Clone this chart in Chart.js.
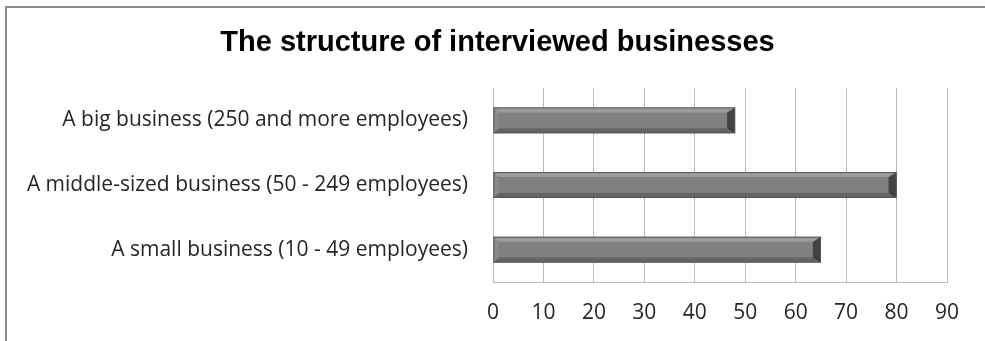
<!DOCTYPE html>
<html>
<head>
<meta charset="utf-8">
<script src="https://cdn.jsdelivr.net/npm/chart.js@4/dist/chart.umd.min.js"></script>
<style>
  html, body { margin: 0; padding: 0; background: #ffffff; }
  #wrap { position: relative; width: 985px; height: 341px; }
</style>
</head>
<body>
<div id="wrap"><canvas id="c" width="985" height="341"></canvas></div>
<script>
const chartTitle = 'The structure of interviewed businesses';
const categories = [
  'A big business (250 and more employees)',
  'A middle-sized business (50 - 249 employees)',
  'A small business (10 - 49 employees)'
];
const counts = [48, 80, 65];
const axisMax = 90;
const axisStep = 10;

const LABEL_FONT = '"Open Sans", sans-serif';
const TITLE_FONT = '"Liberation Sans", Arial, sans-serif';

// Outer frame of the chart and the heading, centred on the framed box
const framePlugin = {
  id: 'frame',
  beforeDraw(chart) {
    const ctx = chart.ctx;
    ctx.save();
    ctx.fillStyle = '#ffffff';
    ctx.fillRect(0, 0, chart.width, chart.height);
    ctx.strokeStyle = '#8c8c8c';
    ctx.lineWidth = 2;
    ctx.beginPath();
    ctx.moveTo(6, chart.height + 5);
    ctx.lineTo(6, 7);
    ctx.lineTo(chart.width + 5, 7);
    ctx.stroke();
    ctx.restore();
  },
  afterDraw(chart) {
    const ctx = chart.ctx;
    ctx.save();
    ctx.fillStyle = '#000000';
    ctx.font = 'bold 29px ' + TITLE_FONT;
    ctx.textAlign = 'center';
    ctx.textBaseline = 'middle';
    ctx.fillText(chartTitle, chart.width / 2 + 5, 43);
    ctx.restore();
  }
};

// Bevelled look for each bar, drawn over the bar the library places
const bevelPlugin = {
  id: 'bevel',
  afterDatasetsDraw(chart) {
    const ctx = chart.ctx;
    const meta = chart.getDatasetMeta(0);
    ctx.save();
    meta.data.forEach(bar => {
      const x0 = Math.min(bar.base, bar.x);
      const x1 = Math.max(bar.base, bar.x);
      const y0 = bar.y - bar.height / 2;
      const y1 = bar.y + bar.height / 2;
      const b = 5;
      // top bevel
      ctx.fillStyle = 'rgba(190,190,190,0.45)';
      ctx.beginPath();
      ctx.moveTo(x0, y0); ctx.lineTo(x1, y0); ctx.lineTo(x1 - b, y0 + b); ctx.lineTo(x0 + b, y0 + b);
      ctx.closePath(); ctx.fill();
      // bottom bevel
      ctx.fillStyle = 'rgba(60,60,60,0.4)';
      ctx.beginPath();
      ctx.moveTo(x0, y1); ctx.lineTo(x1, y1); ctx.lineTo(x1 - b, y1 - b); ctx.lineTo(x0 + b, y1 - b);
      ctx.closePath(); ctx.fill();
      // left bevel
      ctx.fillStyle = 'rgba(150,150,150,0.45)';
      ctx.beginPath();
      ctx.moveTo(x0, y0); ctx.lineTo(x0 + b, y0 + b); ctx.lineTo(x0 + b, y1 - b); ctx.lineTo(x0, y1);
      ctx.closePath(); ctx.fill();
      // right bevel (dark chamfer)
      ctx.fillStyle = 'rgba(40,40,40,0.7)';
      ctx.beginPath();
      ctx.moveTo(x1, y0); ctx.lineTo(x1 - b - 3, y0 + b); ctx.lineTo(x1 - b - 3, y1 - b); ctx.lineTo(x1, y1);
      ctx.closePath(); ctx.fill();
      // outline
      ctx.strokeStyle = '#555555';
      ctx.lineWidth = 1;
      ctx.strokeRect(x0 + 0.5, y0 + 0.5, x1 - x0 - 1, y1 - y0 - 1);
    });
    ctx.restore();
  }
};

function barGradient(context) {
  const chart = context.chart;
  const el = context.element;
  if (!el || !chart.chartArea) return '#808080';
  const y0 = el.y - el.height / 2;
  const y1 = el.y + el.height / 2;
  if (!isFinite(y0) || !isFinite(y1) || y0 === y1) return '#808080';
  const g = chart.ctx.createLinearGradient(0, y0, 0, y1);
  g.addColorStop(0, '#8a8a8a');
  g.addColorStop(0.3, '#a2a2a2');
  g.addColorStop(0.45, '#8e8e8e');
  g.addColorStop(0.7, '#777777');
  g.addColorStop(1, '#5e5e5e');
  return g;
}

const PAD_LEFT = 10;
const PAD_RIGHT = 38;
const PAD_TOP = 88;
const PAD_BOTTOM = 4;

new Chart(document.getElementById('c'), {
  type: 'bar',
  data: {
    labels: categories,
    datasets: [{
      data: counts,
      backgroundColor: barGradient,
      borderWidth: 0,
      categoryPercentage: 0.8,
      barPercentage: 0.5
    }]
  },
  options: {
    indexAxis: 'y',
    responsive: false,
    animation: false,
    devicePixelRatio: 1,
    layout: { padding: { left: PAD_LEFT, right: PAD_RIGHT, top: PAD_TOP, bottom: PAD_BOTTOM } },
    plugins: {
      legend: { display: false },
      tooltip: { enabled: false },
      title: { display: false }
    },
    scales: {
      x: {
        min: 0,
        max: axisMax,
        ticks: {
          stepSize: axisStep,
          color: '#262626',
          font: { family: LABEL_FONT, size: 21 },
          padding: 18
        },
        grid: { color: '#b8b8b8', lineWidth: 1, drawTicks: false },
        border: { color: '#b8b8b8' },
        afterFit(scale) { scale.height = 341 - 282 - PAD_BOTTOM; }
      },
      y: {
        ticks: {
          color: '#262626',
          font: { family: LABEL_FONT, size: 21 },
          padding: 25
        },
        grid: { display: false, drawTicks: false },
        border: { color: '#b8b8b8' },
        afterFit(scale) { scale.width = 493 - PAD_LEFT; }
      }
    }
  },
  plugins: [framePlugin, bevelPlugin]
});
</script>
</body>
</html>
